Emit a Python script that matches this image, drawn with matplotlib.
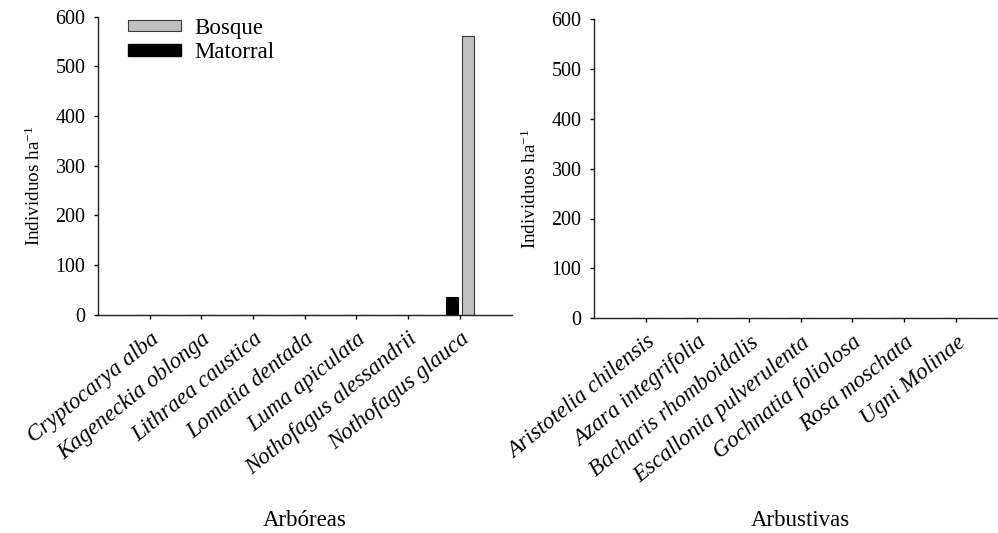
import matplotlib
matplotlib.use("Agg")
import matplotlib.pyplot as plt
import numpy as np
from matplotlib.patches import Patch

# Tree species (Arbóreas) and shrub species (Arbustivas)
arboreas = ["Cryptocarya alba", "Kageneckia oblonga", "Lithraea caustica",
            "Lomatia dentada", "Luma apiculata", "Nothofagus alessandrii",
            "Nothofagus glauca"]
arbustivas = ["Aristotelia chilensis", "Azara integrifolia", "Bacharis rhomboidalis",
              "Escallonia pulverulenta", "Gochnatia foliolosa", "Rosa moschata",
              "Ugni Molinae"]

# Density (individuals per hectare)
arb_bosque = [0, 0, 0, 0, 0, 0, 562]
arb_matorral = [0, 0, 0, 0, 0, 0, 35]
arbu_bosque = [0, 0, 0, 0, 0, 0, 0]
arbu_matorral = [0, 0, 0, 0, 0, 0, 0]

yticks = [0, 100, 200, 300, 400, 500, 600]

plt.rcParams["font.family"] = ["Liberation Serif", "DejaVu Serif"]
plt.rcParams["mathtext.fontset"] = "custom"
plt.rcParams["mathtext.rm"] = "Liberation Serif"
plt.rcParams["mathtext.it"] = "Liberation Serif:italic"
plt.rcParams["mathtext.default"] = "regular"

W, H = 998, 533
fig = plt.figure(figsize=(W / 100, H / 100), dpi=100)

gray = "#c0c0c0"
bw = 0.225
off = 0.153
label_size = 16.5
tick_size = 14.4


def px_axes(x0, x1, ytop, ybot):
    return fig.add_axes([x0 / W, 1 - ybot / H, (x1 - x0) / W, (ybot - ytop) / H])


def style(ax, labels, bosque, matorral, title):
    x = np.arange(len(labels))
    ax.bar(x - off, matorral, bw, color="black", edgecolor="black", linewidth=0.8)
    ax.bar(x + off, bosque, bw, color=gray, edgecolor="#3a3a3a", linewidth=0.8)
    ax.set_xlim(-1, len(labels))
    ax.set_ylim(0, 600)
    ax.set_yticks(yticks)
    ax.set_xticks(x)
    ax.set_xticklabels(labels, rotation=39, ha="right", va="top",
                       rotation_mode="anchor", fontsize=label_size, style="italic")
    ax.tick_params(axis="y", labelsize=tick_size, direction="out", length=3, width=1, pad=6)
    ax.tick_params(axis="x", direction="out", length=3, width=1, pad=7)
    for s in ("top", "right"):
        ax.spines[s].set_visible(False)
    for s in ("left", "bottom"):
        ax.spines[s].set_linewidth(1.0)
        ax.spines[s].set_color("#222222")
    ax.set_ylabel("Individuos ha$^{-1}$", fontsize=13.8, labelpad=8)
    ax.yaxis.label.set_y(0.434)
    bb = ax.get_position()
    fig.text((bb.x0 + bb.x1) / 2, 7 / H, title, ha="center", va="baseline",
             fontsize=label_size)


ax1 = px_axes(98, 511.5, 16.7, 314.7)
style(ax1, arboreas, arb_bosque, arb_matorral, "Arbóreas")

ax2 = px_axes(594, 1007.5, 19.5, 318.0)
style(ax2, arbustivas, arbu_bosque, arbu_matorral, "Arbustivas")

handles = [Patch(facecolor=gray, edgecolor="#3a3a3a", linewidth=0.8, label="Bosque"),
           Patch(facecolor="black", edgecolor="black", label="Matorral")]
ax1.legend(handles=handles, loc="upper left", bbox_to_anchor=(0.073, 0.996),
           frameon=False, fontsize=label_size, handlelength=2.3, handleheight=0.4,
           handletextpad=0.6, labelspacing=0.14, borderaxespad=0, borderpad=0)

fig.savefig("out.png", dpi=100)
